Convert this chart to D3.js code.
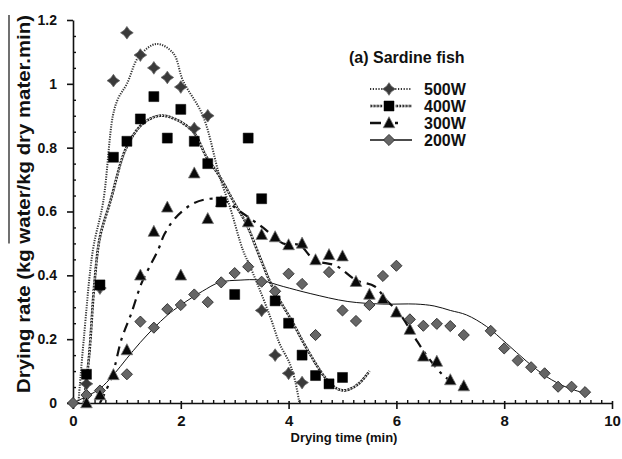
<!DOCTYPE html>
<html><head><meta charset="utf-8">
<script src="https://cdn.jsdelivr.net/npm/d3@7"></script>
<style>body{margin:0;background:#fff}svg{display:block}text{font-family:"Liberation Sans",Arial,sans-serif;font-weight:bold;fill:#111}</style>
</head><body><svg id="c" width="622" height="459"></svg>
<script>
const xTicks = [0,2,4,6,8,10];
const yTicks = [0,0.2,0.4,0.6,0.8,1,1.2];
const yTickLabels = ["0","0.2","0.4","0.6","0.8","1","1.2"];
const seriesNames = ["500W","400W","300W","200W"];
const title = "(a) Sardine fish";
const xLabel = "Drying time (min)";
const yLabelPlain = "Drying rate (kg ";
const yLabelOver = "water/kg dry mater.min)";

const pts500 = [[0.25,0.06],[0.5,0.36],[0.75,1.01],[1.0,1.16],[1.25,1.09],[1.5,1.05],[1.75,1.02],[2.0,0.99],[2.25,0.86],[2.5,0.90],[3.5,0.29],[3.75,0.15],[4.0,0.093],[4.25,0.064]];
const pts400 = [[0.25,0.09],[0.5,0.37],[0.75,0.77],[1.0,0.82],[1.25,0.89],[1.5,0.96],[1.75,0.83],[2.0,0.92],[2.25,0.82],[2.5,0.75],[2.75,0.63],[3.0,0.34],[3.25,0.83],[3.5,0.64],[3.75,0.32],[4.0,0.25],[4.25,0.15],[4.5,0.086],[4.75,0.06],[5.0,0.08]];
const pts300 = [[0.25,0.0],[0.5,0.025],[0.75,0.088],[1.0,0.166],[1.25,0.40],[1.5,0.537],[1.75,0.613],[2.0,0.40],[2.25,0.72],[2.5,0.577],[2.75,0.63],[3.25,0.567],[3.5,0.527],[3.75,0.52],[4.0,0.495],[4.25,0.50],[4.5,0.448],[4.75,0.464],[5.0,0.46],[5.25,0.38],[5.5,0.34],[5.75,0.326],[6.0,0.284],[6.25,0.23],[6.5,0.146],[6.75,0.13],[7.0,0.072],[7.25,0.053]];
const pts200 = [[0,0],[0.25,0.025],[0.5,0.039],[1.0,0.09],[1.25,0.255],[1.5,0.236],[1.75,0.294],[2.0,0.307],[2.25,0.34],[2.5,0.316],[2.75,0.378],[3.0,0.407],[3.25,0.427],[3.5,0.38],[3.75,0.35],[4.0,0.405],[4.25,0.373],[4.5,0.213],[4.75,0.41],[5.0,0.29],[5.25,0.257],[5.5,0.307],[5.75,0.398],[6.0,0.43],[6.25,0.262],[6.5,0.242],[6.75,0.248],[7.0,0.241],[7.25,0.213],[7.75,0.226],[8.0,0.171],[8.25,0.133],[8.5,0.112],[8.75,0.093],[9.0,0.051],[9.25,0.051],[9.5,0.034]];

const fit500 = [[0.1,0],[0.2,0.2],[0.37,0.48],[0.56,0.63],[0.74,0.9],[0.84,0.955],[1.0,1.0],[1.22,1.085],[1.55,1.125],[1.86,1.096],[2.04,1.01],[2.41,0.90],[2.72,0.71],[2.91,0.615],[3.15,0.48],[3.28,0.43],[3.5,0.34],[3.68,0.26],[3.83,0.187],[4.02,0.124],[4.12,0.07],[4.2,0.0]];
const fit400 = [[0.2,0],[0.3,0.15],[0.4,0.38],[0.5,0.52],[0.69,0.63],[0.99,0.80],[1.3,0.876],[1.61,0.90],[1.89,0.89],[2.23,0.85],[2.48,0.77],[2.72,0.71],[3.0,0.625],[3.22,0.56],[3.46,0.46],[3.71,0.36],[4.05,0.26],[4.39,0.155],[4.7,0.075],[4.9,0.045],[5.07,0.04],[5.31,0.062],[5.5,0.1]];
const fit300 = [[0.5,0.0],[0.72,0.082],[0.9,0.2],[1.08,0.28],[1.27,0.375],[1.4,0.42],[1.58,0.48],[1.7,0.53],[1.9,0.58],[2.23,0.625],[2.54,0.64],[2.8,0.635],[3.1,0.6],[3.52,0.55],[3.9,0.50],[4.2,0.495],[4.48,0.448],[4.88,0.43],[5.25,0.385],[5.6,0.365],[5.81,0.323],[6.06,0.28],[6.39,0.192],[6.6,0.14],[6.83,0.093],[6.98,0.072],[7.22,0.051]];
const fit200 = [[0,0],[0.3,0.025],[0.5,0.045],[0.75,0.088],[1.0,0.14],[1.25,0.19],[1.5,0.235],[1.75,0.275],[2.0,0.307],[2.4,0.35],[2.72,0.378],[3.1,0.385],[3.46,0.385],[3.9,0.365],[4.4,0.343],[5.1,0.318],[5.75,0.31],[6.36,0.31],[6.7,0.304],[7.0,0.29],[7.3,0.276],[7.67,0.24],[8.04,0.187],[8.42,0.13],[8.79,0.082],[9.16,0.049],[9.47,0.032]];

const svg = d3.select("#c");
const x = d3.scaleLinear().domain([0,10]).range([73,612]);
const y = d3.scaleLinear().domain([0,1.2]).range([403,20]);

// axes
const xMinor = d3.range(0,10.001,0.2).filter(v=>Math.abs(v/2-Math.round(v/2))>1e-6);
const yMinor = d3.range(0,1.2001,0.05).filter(v=>Math.abs(v/0.2-Math.round(v/0.2))>1e-6);
const gx = svg.append("g").attr("transform","translate(0,403)");
gx.call(d3.axisBottom(x).tickValues(xTicks).tickSize(6).tickSizeOuter(0).tickFormat(d3.format("d")));
gx.select(".domain").attr("stroke","#111").attr("stroke-width",1.6);
gx.selectAll(".tick line").attr("stroke","#111").attr("stroke-width",1.6).attr("y1",-2);
gx.selectAll(".tick text").attr("font-size",15).attr("y",12).attr("fill","#111");
svg.append("g").attr("transform","translate(0,403)").call(d3.axisTop(x).tickValues(xMinor).tickSize(3).tickFormat(""))
  .call(g=>g.select(".domain").remove()).selectAll("line").attr("stroke","#111").attr("stroke-width",1.4);
const gy = svg.append("g").attr("transform","translate(73,0)");
gy.call(d3.axisLeft(y).tickValues(yTicks).tickSize(6).tickSizeOuter(0).tickFormat((d,i)=>yTickLabels[i]));
gy.select(".domain").attr("stroke","#111").attr("stroke-width",1.6);
gy.selectAll(".tick line").attr("stroke","#111").attr("stroke-width",1.6);
gy.selectAll(".tick text").attr("font-size",14).attr("x",-16).attr("fill","#111");
svg.append("g").attr("transform","translate(73,0)").call(d3.axisRight(y).tickValues(yMinor).tickSize(3).tickFormat(""))
  .call(g=>g.select(".domain").remove()).selectAll("line").attr("stroke","#111").attr("stroke-width",1.4);

// axis labels
svg.append("text").attr("x",344).attr("y",442).attr("text-anchor","middle").attr("font-size",13).text(xLabel);
const yl = svg.append("text").attr("transform","translate(30,393) rotate(-90)").attr("font-size",18)
  .attr("textLength",378).attr("lengthAdjust","spacingAndGlyphs");
yl.append("tspan").text(yLabelPlain);
yl.append("tspan").text(yLabelOver);
{
  const node = yl.node();
  const start = node.getStartPositionOfChar(yLabelPlain.length).x;
  svg.append("line").attr("transform","translate(30,393) rotate(-90)")
    .attr("x1",start).attr("x2",378).attr("y1",-21).attr("y2",-21).attr("stroke","#111").attr("stroke-width",1.2);
}

// curves
const line = d3.line().x(d=>x(d[0])).y(d=>y(d[1])).curve(d3.curveCatmullRom.alpha(0.5));
const curves = svg.append("g").attr("fill","none");
curves.append("path").attr("d",line(fit500)).attr("stroke","#333").attr("stroke-width",2).attr("stroke-dasharray","1.2,1.3");
curves.append("path").attr("d",line(fit400)).attr("stroke","#222").attr("stroke-width",2.6).attr("stroke-dasharray","2.4,0.8");
curves.append("path").attr("d",line(fit400)).attr("stroke","#fff").attr("stroke-width",0.9).attr("stroke-dasharray","1.2,2");
curves.append("path").attr("d",line(fit300)).attr("stroke","#111").attr("stroke-width",2.2).attr("stroke-dasharray","10,6,3,6");
curves.append("path").attr("d",line(fit200)).attr("stroke","#111").attr("stroke-width",1);

// markers
const diamondT = {draw(ctx,size){const r=Math.sqrt(size/2);ctx.moveTo(0,-r);ctx.lineTo(r,0);ctx.lineTo(0,r);ctx.lineTo(-r,0);ctx.closePath();}};
const starT = {draw(ctx,size){const r=Math.sqrt(size/2), q=r*0.32;ctx.moveTo(0,-r);ctx.quadraticCurveTo(q,-q,r,0);ctx.quadraticCurveTo(q,q,0,r);ctx.quadraticCurveTo(-q,q,-r,0);ctx.quadraticCurveTo(-q,-q,0,-r);ctx.closePath();}};
const squareT = {draw(ctx,size){const h=Math.sqrt(size)/2;ctx.rect(-h,-h,2*h,2*h);}};
const triT = {draw(ctx,size){const h=Math.sqrt(size);ctx.moveTo(0,-h*0.6);ctx.lineTo(h*0.55,h*0.45);ctx.lineTo(-h*0.55,h*0.45);ctx.closePath();}};
const styles = [
  {type:starT,size:80,fill:"#3a3a3a",stroke:"#666",sw:0.8},
  {type:squareT,size:100,fill:"#000",stroke:"#000",sw:0.5},
  {type:triT,size:110,fill:"#0a0a0a",stroke:"#777",sw:0.8},
  {type:diamondT,size:62,fill:"#666",stroke:"#2a2a2a",sw:0.9}
];
const allPts = [pts500,pts400,pts300,pts200];
[3,0,2,1].forEach(i=>{
  const s = styles[i];
  svg.append("g").selectAll("path").data(allPts[i]).join("path")
    .attr("transform",d=>`translate(${x(d[0])},${y(d[1])})`)
    .attr("d",d3.symbol().type(s.type).size(s.size)())
    .attr("fill",s.fill).attr("stroke",s.stroke).attr("stroke-width",s.sw);
});

// legend
svg.append("text").attr("x",349).attr("y",63).attr("font-size",16).text(title);
const rowsY = [89,106,123,140];
const lg = svg.append("g");
seriesNames.forEach((n,i)=>{
  const yy = rowsY[i];
  const lp = lg.append("line").attr("x1",370).attr("x2",412).attr("y1",yy).attr("y2",yy).attr("fill","none");
  if(i===0) lp.attr("stroke","#333").attr("stroke-width",2).attr("stroke-dasharray","1.2,1.6");
  if(i===1){ lp.attr("stroke","#222").attr("stroke-width",2.6).attr("stroke-dasharray","2.4,0.8");
    lg.append("line").attr("x1",370).attr("x2",412).attr("y1",yy).attr("y2",yy).attr("stroke","#fff").attr("stroke-width",0.9).attr("stroke-dasharray","1.2,2"); }
  if(i===2) lp.attr("stroke","#111").attr("stroke-width",2.4).attr("stroke-dasharray","11,12,5,20");
  if(i===3) lp.attr("stroke","#111").attr("stroke-width",1.6);
  const s = styles[i];
  lg.append("rect").attr("x",383).attr("y",yy-6).attr("width",12).attr("height",12).attr("fill",i===3?"none":"#fff");
  lg.append("path").attr("transform",`translate(389,${yy})`).attr("d",d3.symbol().type(s.type).size(s.size)())
    .attr("fill",s.fill).attr("stroke",s.stroke).attr("stroke-width",s.sw);
  lg.append("text").attr("x",424).attr("y",yy+6).attr("font-size",16).text(n);
});
</script></body></html>
